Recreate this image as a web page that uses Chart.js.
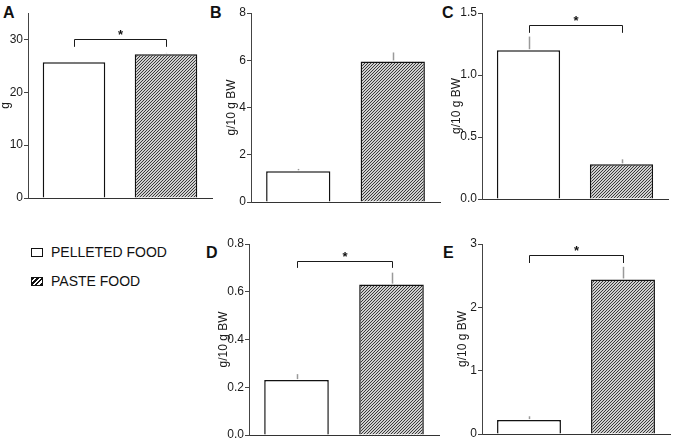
<!DOCTYPE html>
<html>
<head>
<meta charset="utf-8">
<script src="https://cdn.jsdelivr.net/npm/chart.js"></script>
<style>
  body { margin:0; background:#fff; width:675px; height:442px; position:relative; overflow:hidden;
         font-family:"Liberation Sans", Arial, sans-serif; }
  canvas.panel { position:absolute; }
  .tag { position:absolute; font-weight:bold; font-size:16px; line-height:16px; color:#111; }
  .legend-row { position:absolute; left:31px; height:14px; font-size:14px; line-height:14px; color:#111;
                display:flex; align-items:center; }
  .swatch { width:10px; height:7px; border:1.5px solid #111; margin-right:8px; box-sizing:content-box; }
  .swatch.paste { background:repeating-linear-gradient(135deg, #111 0 1.6px, #fff 1.6px 3.4px); }
</style>
</head>
<body>
<div class="tag" style="left:3px;top:5px">A</div>
<div class="tag" style="left:210px;top:5px">B</div>
<div class="tag" style="left:442px;top:5px">C</div>
<div class="tag" style="left:206px;top:245px">D</div>
<div class="tag" style="left:443px;top:245px">E</div>

<div class="legend-row" style="top:245px"><div class="swatch"></div>PELLETED FOOD</div>
<div class="legend-row" style="top:274px"><div class="swatch paste"></div>PASTE FOOD</div>

<script>
// groups on the x axis (same two in every panel)
const groups = ["PELLETED FOOD", "PASTE FOOD"];

// panel A..E : mean and error
const meanA = [25.7, 27.2];  const errA = [0.2, 0.25];
const meanB = [1.3, 5.95];   const errB = [0.1, 0.38];
const meanC = [1.2, 0.28];   const errC = [0.11, 0.04];
const meanD = [0.23, 0.63];  const errD = [0.025, 0.05];
const meanE = [0.22, 2.44];  const errE = [0.06, 0.2];

const yTitles = ["g", "g/10 g BW", "g/10 g BW", "g/10 g BW", "g/10 g BW"];
const yMax = [35, 8, 1.5, 0.8, 3];
const yStep = [10, 2, 0.5, 0.2, 1];
const yTopTick = [30, 8, 1.5, 0.8, 3];
const yDecimals = [0, 0, 1, 1, 0];

// significance brackets (value of the bar, value where the legs end); null = none
const sigLevel = [30, null, 1.4, 0.73, 2.83];
const sigDrop = [28.6, null, 1.34, 0.70, 2.70];

const means = [meanA, meanB, meanC, meanD, meanE];
const errs = [errA, errB, errC, errD, errE];

// where each panel sits on the page
const layout = [
  { left: -2,  top: 3,   axisX: 28,  right: 212, bottom: 198 },
  { left: 224, top: 3,   axisX: 251, right: 440, bottom: 202 },
  { left: 449, top: 3,   axisX: 482, right: 668, bottom: 199 },
  { left: 216, top: 234, axisX: 249, right: 439, bottom: 435 },
  { left: 455, top: 234, axisX: 482, right: 670, bottom: 434 },
];
const padT = 10, padB = 10, padR = 4;
const FONT = "'Liberation Sans', Arial, sans-serif";

// fine "/" hatch, 3px period
function hatchTile() {
  const c = document.createElement("canvas");
  c.width = 3; c.height = 3;
  const g = c.getContext("2d");
  g.fillStyle = "#cfcfcf";
  g.fillRect(0, 0, 3, 3);
  g.fillStyle = "#3a3a3a";
  g.fillRect(0, 2, 1, 1);
  g.fillRect(1, 1, 1, 1);
  g.fillRect(2, 0, 1, 1);
  return c;
}
const tile = hatchTile();

// error bars + significance bracket
const extras = {
  id: "extras",
  afterDatasetsDraw(chart, args, opts) {
    const i = opts.panel;
    const { ctx } = chart;
    const x = chart.scales.x, y = chart.scales.y;
    ctx.save();
    ctx.strokeStyle = "#9a9a9a";
    ctx.lineWidth = 1.5;
    means[i].forEach((m, k) => {
      const px = Math.round(x.getPixelForValue(k)) + 0.5;
      ctx.beginPath();
      ctx.moveTo(px, y.getPixelForValue(m) - 1);
      ctx.lineTo(px, y.getPixelForValue(m + errs[i][k]));
      ctx.stroke();
    });
    if (sigLevel[i] != null) {
      const x0 = Math.round(x.getPixelForValue(0)) + 0.5;
      const x1 = Math.round(x.getPixelForValue(1)) + 0.5;
      const yl = Math.round(y.getPixelForValue(sigLevel[i])) + 0.5;
      const yd = y.getPixelForValue(sigDrop[i]);
      ctx.strokeStyle = "#1a1a1a";
      ctx.lineWidth = 1;
      ctx.beginPath();
      ctx.moveTo(x0, yd); ctx.lineTo(x0, yl); ctx.lineTo(x1, yl); ctx.lineTo(x1, yd);
      ctx.stroke();
      ctx.fillStyle = "#111";
      ctx.font = "bold 13px " + FONT;
      ctx.textAlign = "center";
      ctx.textBaseline = "alphabetic";
      ctx.fillText("*", (x0 + x1) / 2, yl - 1);
    }
    ctx.restore();
  }
};

layout.forEach((lay, i) => {
  const cv = document.createElement("canvas");
  cv.className = "panel";
  cv.width = lay.right - lay.left + padR;
  cv.height = lay.bottom - lay.top + padB;
  cv.style.left = lay.left + "px";
  cv.style.top = lay.top + "px";
  document.body.appendChild(cv);
  const ctx = cv.getContext("2d");
  const hatch = ctx.createPattern(tile, "repeat");

  new Chart(ctx, {
    type: "bar",
    data: {
      labels: groups,
      datasets: [{
        data: means[i],
        backgroundColor: ["#ffffff", hatch],
        borderColor: "#111",
        borderWidth: 1.5,
        barPercentage: 0.68,
        categoryPercentage: 1.0
      }]
    },
    options: {
      responsive: false,
      animation: false,
      layout: { padding: { top: padT, bottom: padB, right: padR, left: 0 } },
      plugins: { legend: { display: false }, tooltip: { enabled: false }, extras: { panel: i } },
      scales: {
        x: {
          grid: { display: false },
          ticks: { display: false },
          border: { display: true, color: "#333", width: 1 },
          afterFit: s => { s.height = 0; }
        },
        y: {
          min: 0, max: yMax[i],
          ticks: {
            stepSize: yStep[i], color: "#1a1a1a", padding: 1,
            font: { size: 12, family: FONT },
            callback: v => Number(v).toFixed(yDecimals[i])
          },
          grid: { display: true, drawOnChartArea: false, drawTicks: true, tickLength: 4, color: "#444" },
          border: { display: true, color: "#444", width: 1 },
          title: { display: true, text: yTitles[i], color: "#1a1a1a", padding: 0, font: { size: 12, family: FONT } },
          afterBuildTicks: s => { s.ticks = s.ticks.filter(t => t.value <= yTopTick[i] + 1e-9); },
          afterFit: s => { s.width = lay.axisX - lay.left; }
        }
      }
    },
    plugins: [extras]
  });
});
</script>
</body>
</html>
